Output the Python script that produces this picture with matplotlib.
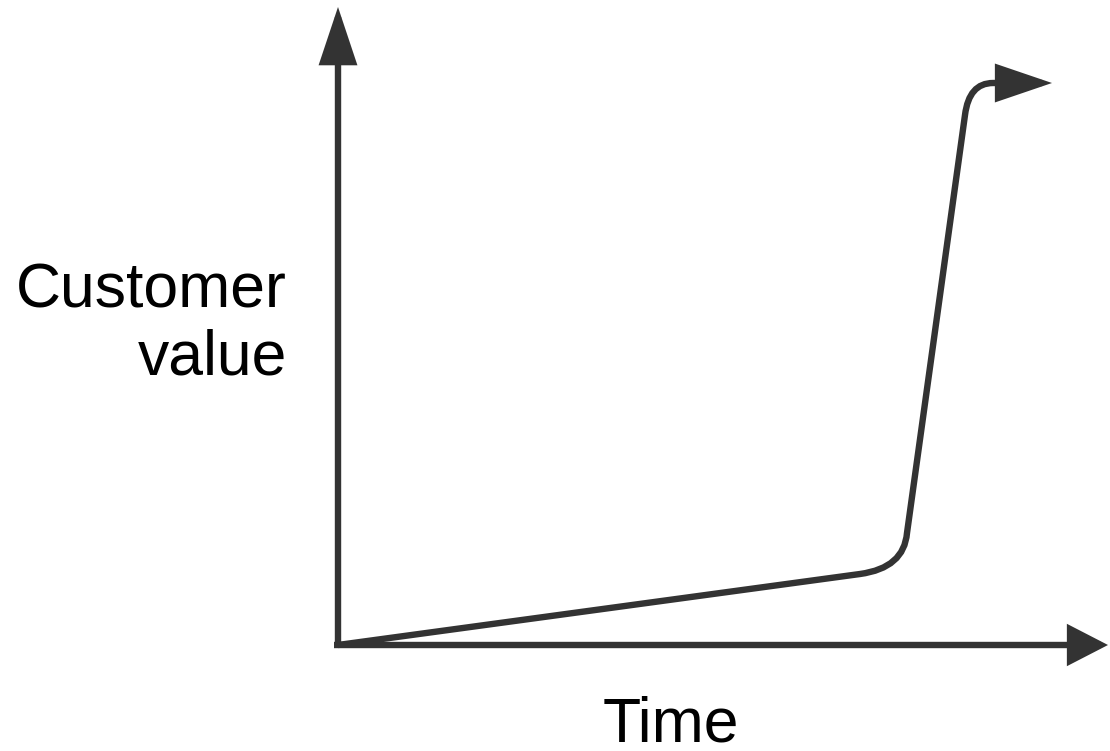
import matplotlib.pyplot as plt
from matplotlib.path import Path
from matplotlib.patches import FancyArrowPatch

plt.rcParams['font.family'] = ['Liberation Sans', 'DejaVu Sans']

# curve key points (time, value) in chart units, origin at the axes corner
curve_x = [0, 522, 566, 569, 627, 631, 655, 714]
curve_y = [0, 71, 77, 112, 530, 562, 562, 562]
curve_codes = [Path.MOVETO, Path.LINETO, Path.CURVE3, Path.CURVE3,
               Path.LINETO, Path.CURVE3, Path.CURVE3, Path.LINETO]

x_axis_end = 770
y_axis_end = 638

color = '#333333'
lw = 4.6

fig = plt.figure(figsize=(11.1, 7.51), dpi=100)
ax = fig.add_axes([0, 0, 1, 1])
# 1 unit = 1 pixel, origin at pixel (338, 645)
ax.set_xlim(-338, 1110 - 338)
ax.set_ylim(-(751 - 645), 645)
ax.axis('off')

px = 0.72  # points per pixel

def arrow(path, hl, hw):
    style = '-|>,head_length=%.1f,head_width=%.1f' % (hl * px, hw * px)
    p = FancyArrowPatch(path=path, arrowstyle=style, mutation_scale=1,
                        color=color, lw=lw, capstyle='butt', joinstyle='miter',
                        shrinkA=0, shrinkB=0)
    ax.add_patch(p)

# axes
arrow(Path([(0, -3), (0, y_axis_end)]), 45, 15)
arrow(Path([(-4, 0), (x_axis_end, 0)]), 31, 16)

# value curve
arrow(Path(list(zip(curve_x, curve_y)), curve_codes), 44, 15)

fig.text(287 / 1110, 1 - 307 / 751, 'Customer', fontsize=45, ha='right',
         va='baseline', color='black')
fig.text(287 / 1110, 1 - 375 / 751, 'value', fontsize=45, ha='right',
         va='baseline', color='black')
fig.text(671 / 1110, 1 - 741 / 751, 'Time', fontsize=45, ha='center',
         va='baseline', color='black')

fig.savefig('out.png', dpi=100)
